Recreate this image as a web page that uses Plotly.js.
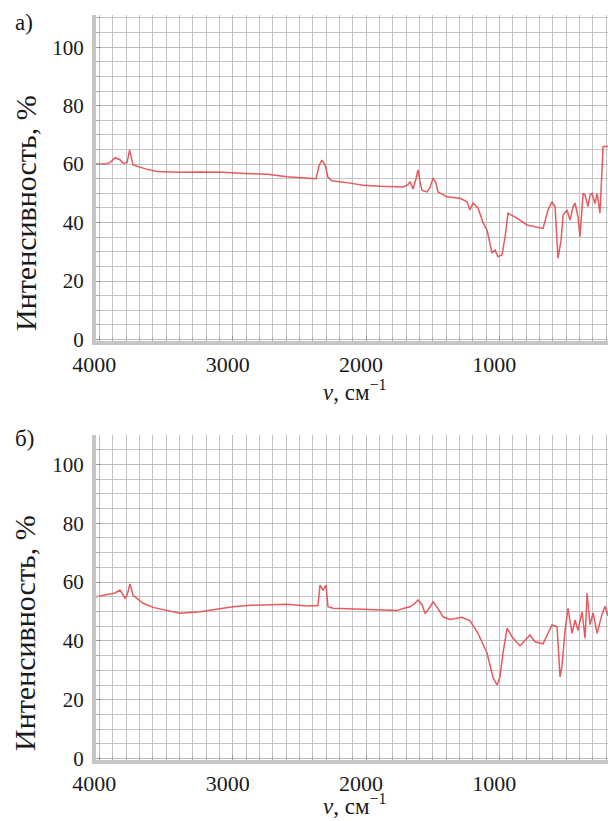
<!DOCTYPE html>
<html>
<head>
<meta charset="utf-8">
<script src="https://cdn.plot.ly/plotly-3.0.1.min.js"></script>
<style>html,body{margin:0;padding:0;background:#fff;}#chart{width:608px;height:821px;}</style>
</head>
<body>
<div id="chart"></div>
<script>
// Spectrum (а)
const waveA = [4025,3995,3957,3920,3882,3845,3822,3792,3773,3747,3695,3642,3567,3395,3245,3072,2907,2742,2592,2457,2375,2352,2330,2307,2285,2255,2195,2120,2022,1895,1722,1685,1670,1647,1625,1610,1595,1580,1542,1520,1497,1475,1460,1392,1295,1242,1220,1197,1160,1122,1092,1055,1032,1010,980,957,935,867,792,717,672,635,605,582,560,537,522,492,470,447,432,410,395,372,357,335,320,305,282,267,245,222,185];
const intA = [60,60,60,60.5,62.2,61.5,60.3,60.5,64.8,59.7,59,58.2,57.5,57.2,57.3,57.2,56.8,56.5,55.7,55.2,55,59.5,61.4,59.7,55.5,54.3,54,53.5,52.8,52.4,52.2,53,54,51.5,55,58,54,51,50.5,52,55.2,53.5,50.5,48.8,48.3,47.1,44.3,46.7,45,40,37.4,29.6,30.6,28.3,29,35,43.2,41.5,39.2,38.6,38,44.3,47.1,45.4,27.8,34,42.6,44.3,40.9,45.4,46.7,42,35.2,50,49.4,45.5,49.4,50,46.5,50,43.2,66,66];
// Spectrum (б)
const waveB = [4025,3995,3920,3882,3845,3807,3792,3770,3747,3717,3672,3597,3492,3395,3245,3117,2997,2870,2742,2592,2442,2360,2345,2322,2300,2285,2247,2120,2022,1767,1722,1670,1632,1610,1580,1557,1535,1497,1467,1422,1370,1280,1220,1160,1092,1047,1017,995,972,942,905,845,770,732,672,605,567,545,530,507,485,455,432,410,380,357,342,320,297,267,230,207,185];
const intB = [55,55.3,55.9,56.3,57.3,54.5,55.5,59.4,55.5,54.5,52.8,51.4,50.3,49.4,49.9,50.7,51.6,52.1,52.2,52.5,51.9,52,59,57.3,59,51.6,51.1,50.9,50.5,50.3,51,51.6,52.8,53.9,52.3,49.4,50.5,53.3,51.5,48.2,47.3,48,46.8,42.6,35.8,27.5,25,27.8,36,44.3,41.4,38.3,42,39.7,39,45.4,44.8,27.8,31.5,43.7,51.1,42.6,47.1,43.5,49.9,40.9,56.2,45.5,49.5,42.6,49,51.8,48.5];
const xTicks = [4000,3000,2000,1000];
const yTicks = [0,20,40,60,80,100];
const panelLabels = ['а)','б)'];
const yTitle = 'Интенсивность, %';
const xTitle = '<i>ν</i>, см<sup>−1</sup>';

const serif = '"Liberation Serif", "Times New Roman", serif';
const lineStyle = {color:'rgba(228,72,76,0.9)', width:1.5};
const traces = [
  {x:waveA, y:intA, type:'scatter', mode:'lines', line:lineStyle, xaxis:'x', yaxis:'y', hoverinfo:'skip'},
  {x:waveB, y:intB, type:'scatter', mode:'lines', line:lineStyle, xaxis:'x2', yaxis:'y2', hoverinfo:'skip'}
];
function xAxis(anchor){
  return {anchor:anchor, domain:[0,1], range:[4025,185], tickvals:xTicks, ticktext:xTicks.map(String),
    showgrid:true, gridcolor:'#bdbdbd', gridwidth:1, zeroline:false,
    showline:true, linecolor:'#c6c6c6', linewidth:4, ticks:'inside', ticklen:5, tickcolor:'#999',
    ticklabelstandoff:1, ticklabelshift:5,
    minor:{dtick:100, tick0:0, showgrid:true, gridcolor:'#c4c4c4', gridwidth:1, ticks:'inside', ticklen:4, tickcolor:'#aaa'},
    tickfont:{family:serif, size:22, color:'#1a1a1a'}, fixedrange:true};
}
function yAxis(anchor, domain, top){
  return {anchor:anchor, domain:domain, range:[-0.5, top], tickvals:yTicks, ticktext:yTicks.map(String),
    showgrid:true, gridcolor:'#bdbdbd', gridwidth:1, zeroline:false,
    showline:true, linecolor:'#c6c6c6', linewidth:4, ticks:'inside', ticklen:5, tickcolor:'#999',
    ticklabelstandoff:4,
    minor:{dtick:5, tick0:0, showgrid:true, gridcolor:'#c4c4c4', gridwidth:1, ticks:'inside', ticklen:4, tickcolor:'#aaa'},
    tickfont:{family:serif, size:21, color:'#1a1a1a'}, fixedrange:true};
}
const ann = (text, x, y, size, angle) => ({text:text, xref:'paper', yref:'paper', x:x, y:y,
  xanchor:'center', yanchor:'middle', showarrow:false, textangle:angle||0,
  font:{family:serif, size:size, color:'#1a1a1a'}});
const layout = {
  width:608, height:821, margin:{l:96, r:0, t:15, b:61},
  paper_bgcolor:'#fff', plot_bgcolor:'#fff', showlegend:false,
  font:{family:serif, size:22, color:'#1a1a1a'},
  xaxis:xAxis('y'), yaxis:yAxis('x',[0.5624,1],111),
  xaxis2:xAxis('y2'), yaxis2:yAxis('x2',[0,0.4362],110),
  annotations:[
    ann(panelLabels[0], -0.1406, 0.9906, 23),
    ann(panelLabels[1], -0.1406, 0.4309, 23),
    ann(yTitle, -0.1387, 0.7342, 30, -90),
    ann(yTitle, -0.1387, 0.1705, 30, -90),
    ann(xTitle, 0.5059, 0.4966, 23),
    ann(xTitle, 0.5059, -0.0604, 23)
  ]
};
Plotly.newPlot('chart', traces, layout, {staticPlot:true, displayModeBar:false});
</script>
</body>
</html>
